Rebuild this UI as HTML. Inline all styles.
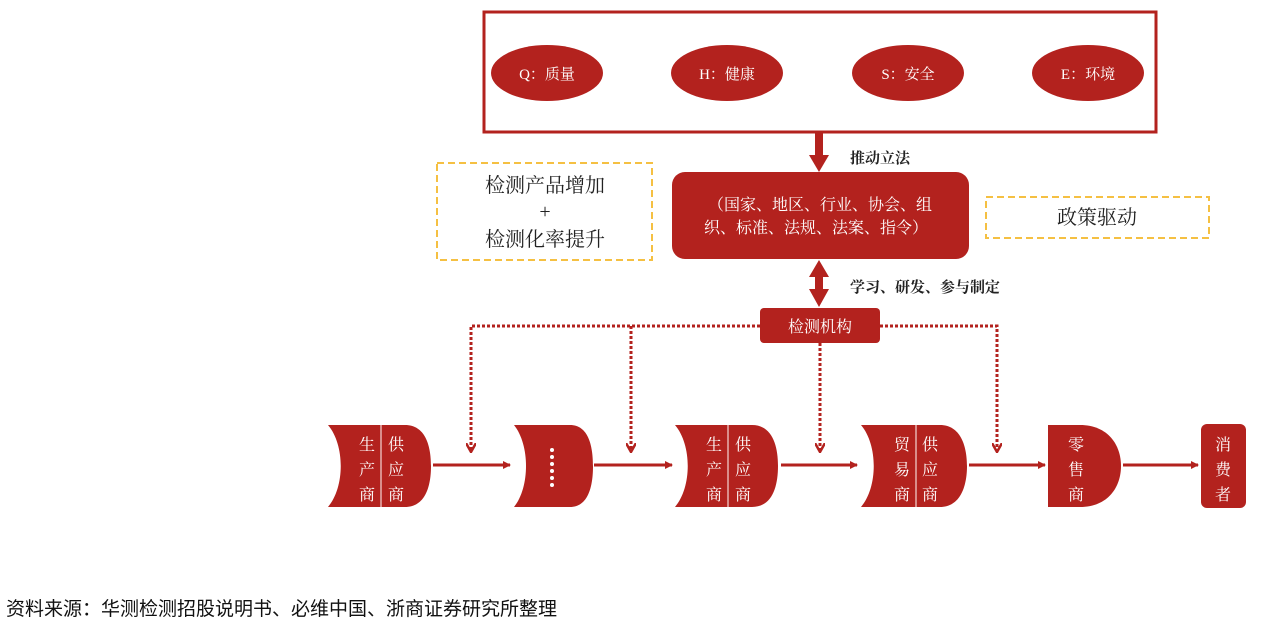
<!DOCTYPE html>
<html><head><meta charset="utf-8"><style>
body{margin:0;background:#fff;width:1269px;height:624px;overflow:hidden;}
svg text{font-family:"Liberation Serif","Noto Serif CJK SC",serif;}
.cap{position:absolute;left:6px;top:594px;font-family:"Liberation Sans","Noto Sans CJK SC",sans-serif;font-size:19px;color:#111;white-space:nowrap;letter-spacing:0px;}
</style></head><body>
<svg width="1269" height="624" viewBox="0 0 1269 624" style="position:absolute;left:0;top:0">
<defs>
<marker id="ah" markerWidth="8" markerHeight="8" refX="7" refY="4" orient="auto" markerUnits="userSpaceOnUse"><path d="M0,0 L8,4 L0,8 Z" fill="#b3221e"/></marker>
<marker id="ad" markerWidth="10" markerHeight="10" refX="5" refY="9" orient="0" markerUnits="userSpaceOnUse"><path d="M0,0 L5,9 L10,0" fill="none" stroke="#b3221e" stroke-width="2.5"/></marker>
</defs>
<rect x="484" y="12" width="672" height="120" fill="none" stroke="#b3221e" stroke-width="3"/>
<g fill="#b3221e"><ellipse cx="547" cy="73" rx="56" ry="28"/><ellipse cx="727" cy="73" rx="56" ry="28"/><ellipse cx="908" cy="73" rx="56" ry="28"/><ellipse cx="1088" cy="73" rx="56" ry="28"/></g>
<g fill="#fff" font-size="15" text-anchor="middle"><text x="547" y="79">Q：质量</text><text x="727" y="79">H：健康</text><text x="908" y="79">S：安全</text><text x="1088" y="79">E：环境</text></g>
<rect x="815" y="133" width="8" height="24" fill="#b3221e"/><path d="M809,155 L829,155 L819,172 Z" fill="#b3221e"/>
<text x="850" y="163" font-size="15" fill="#222" font-weight="bold">推动立法</text>
<rect x="672" y="172" width="297" height="87" rx="13" fill="#b3221e"/>
<g fill="#fff" font-size="16" text-anchor="middle"><text x="820" y="210">（国家、地区、行业、协会、组</text><text x="816" y="233">织、标准、法规、法案、指令）</text></g>
<rect x="815" y="275" width="8" height="16" fill="#b3221e"/><path d="M809,277 L829,277 L819,260 Z M809,289 L829,289 L819,307 Z" fill="#b3221e"/>
<text x="850" y="292" font-size="15" fill="#222" font-weight="bold">学习、研发、参与制定</text>
<rect x="760" y="308" width="120" height="35" rx="4" fill="#b3221e"/>
<text x="820" y="332" font-size="16" fill="#fff" text-anchor="middle">检测机构</text>
<rect x="437" y="163" width="215" height="97" fill="none" stroke="#f5c042" stroke-width="2" stroke-dasharray="7,4"/>
<g font-size="20" fill="#222" text-anchor="middle"><text x="545" y="192">检测产品增加</text><text x="545" y="218">+</text><text x="545" y="246">检测化率提升</text></g>
<rect x="986" y="197" width="223" height="41" fill="none" stroke="#f5c042" stroke-width="2" stroke-dasharray="7,4"/>
<text x="1097" y="224" font-size="20" fill="#222" text-anchor="middle">政策驱动</text>
<g fill="none" stroke="#b3221e" stroke-width="3" stroke-dasharray="3,2">
<path d="M760,326 L471,326 L471,452" marker-end="url(#ad)"/>
<path d="M631,326 L631,452" marker-end="url(#ad)"/>
<path d="M820,343 L820,452" marker-end="url(#ad)"/>
<path d="M880,326 L997,326 L997,452" marker-end="url(#ad)"/>
</g>
<g stroke="#b3221e" stroke-width="3">
<line x1="433" y1="465" x2="510" y2="465" marker-end="url(#ah)"/>
<line x1="594" y1="465" x2="672" y2="465" marker-end="url(#ah)"/>
<line x1="781" y1="465" x2="857" y2="465" marker-end="url(#ah)"/>
<line x1="969" y1="465" x2="1045" y2="465" marker-end="url(#ah)"/>
<line x1="1123" y1="465" x2="1198" y2="465" marker-end="url(#ah)"/>
</g>
<g fill="#b3221e">
<path d="M328,425 C345,445 345,487 328,507 L405,507 C425,507 431,487 431,466 C431,445 425,425 405,425 Z"/>
<path d="M514,425 C530,445 530,487 514,507 L570,507 C588,507 593,487 593,466 C593,445 588,425 570,425 Z"/>
<path d="M675,425 C692,445 692,487 675,507 L752,507 C772,507 778,487 778,466 C778,445 772,425 752,425 Z"/>
<path d="M861,425 C878,445 878,487 861,507 L940,507 C960,507 967,487 967,466 C967,445 960,425 940,425 Z"/>
<path d="M1048,425 L1080,425 C1108,425 1121,445 1121,466 C1121,487 1108,507 1080,507 L1048,507 Z"/>
<rect x="1201" y="424" width="45" height="84" rx="6"/>
</g>
<g stroke="#f3d6d4" stroke-width="1.2"><line x1="381" y1="425" x2="381" y2="507"/><line x1="728" y1="425" x2="728" y2="507"/><line x1="916" y1="425" x2="916" y2="507"/></g>
<g fill="#fff" font-size="16" text-anchor="middle">
<text x="367" y="450">生</text><text x="367" y="475">产</text><text x="367" y="500">商</text>
<text x="396" y="450">供</text><text x="396" y="475">应</text><text x="396" y="500">商</text>
<text x="714" y="450">生</text><text x="714" y="475">产</text><text x="714" y="500">商</text>
<text x="743" y="450">供</text><text x="743" y="475">应</text><text x="743" y="500">商</text>
<text x="902" y="450">贸</text><text x="902" y="475">易</text><text x="902" y="500">商</text>
<text x="930" y="450">供</text><text x="930" y="475">应</text><text x="930" y="500">商</text>
<text x="1076" y="450">零</text><text x="1076" y="475">售</text><text x="1076" y="500">商</text>
<text x="1223" y="450">消</text><text x="1223" y="475">费</text><text x="1223" y="500">者</text>
</g>
<g fill="#fff"><circle cx="552" cy="450" r="2"/><circle cx="552" cy="457" r="2"/><circle cx="552" cy="464" r="2"/><circle cx="552" cy="471" r="2"/><circle cx="552" cy="478" r="2"/><circle cx="552" cy="485" r="2"/></g>
</svg>
<div class="cap">资料来源：华测检测招股说明书、必维中国、浙商证券研究所整理</div>
</body></html>
